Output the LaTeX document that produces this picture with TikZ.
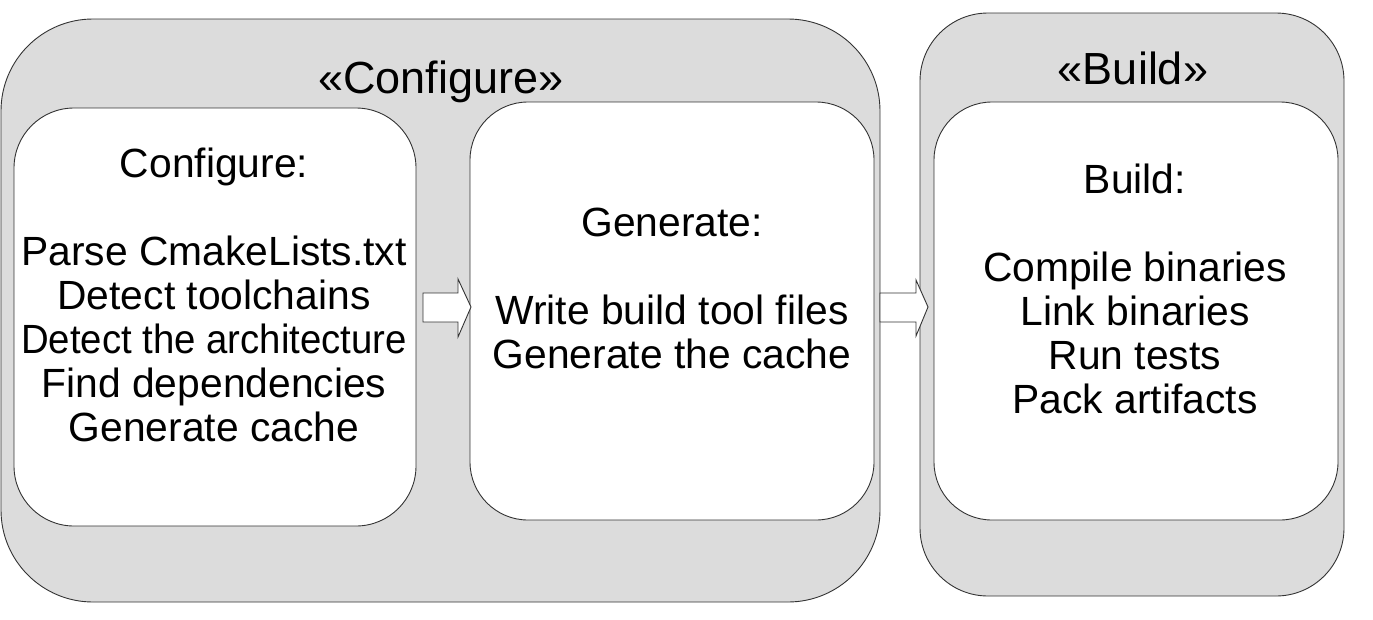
\documentclass[tikz,border=0pt]{standalone}
\usepackage{fontspec}
\setmainfont{Liberation Sans}
\usetikzlibrary{calc}
\definecolor{panelgray}{HTML}{DCDCDC}
\definecolor{edgegray}{HTML}{333333}
\tikzset{
  outerbox/.style={draw=edgegray, fill=panelgray, line width=0.9pt, inner sep=0pt, outer sep=0pt},
  innerbox/.style={draw=edgegray, fill=white, line width=0.9pt, inner sep=0pt, outer sep=0pt},
  bodytext/.style={align=center, font=\fontsize{40.8}{44}\selectfont, inner sep=0pt},
  titletext/.style={font=\fontsize{45}{54}\selectfont, inner sep=0pt},
  blockarrow/.style={draw=edgegray, fill=white, line width=0.9pt, line join=miter}
}
\begin{document}
\begin{tikzpicture}[x=1pt,y=-1pt]
\useasboundingbox (0,0) rectangle (1373,619);
% outer panels
\node[outerbox, rounded corners=92pt, minimum width=879pt, minimum height=583pt] (cfgpanel) at (440.5,310.5) {};
\node[outerbox, rounded corners=68pt, minimum width=424pt, minimum height=583pt] (bldpanel) at (1132,304.5) {};
% inner boxes
\node[innerbox, rounded corners=60pt, minimum width=402pt, minimum height=418pt] (cfgbox) at (215,317) {};
\node[innerbox, rounded corners=58pt, minimum width=404pt, minimum height=418pt] (genbox) at (672,311) {};
\node[innerbox, rounded corners=58pt, minimum width=404pt, minimum height=418pt] (bldbox) at (1136,311) {};
% titles
\node[titletext] (cfgtitle) at (441,82) {«Configure»};
\node[titletext] (bldtitle) at (1133,68) {«Build»};
% texts
\node[bodytext] (cfgtext) at (214,294.5) {Configure:\\[44pt]Parse CmakeLists.txt\\Detect toolchains\\\scalebox{0.94}[1]{Detect the architecture}\\Find dependencies\\Generate cache};
\node[bodytext] (gentext) at (672,288) {Generate:\\[44pt]Write build tool files\\Generate the cache};
\node[bodytext] (bldtext) at (1135,288.5) {Build:\\[44pt]Compile binaries\\Link binaries\\Run tests\\Pack artifacts};
% block arrows
\coordinate (a1s) at ($(cfgbox.east)+(7,-10)$);
\coordinate (a1t) at ($(genbox.west)+(1,-4)$);
\draw[blockarrow] (a1s |- 0,293) -- (458,293) -- (458,279) -- (a1t) -- (458,337) -- (458,322) -- (a1s |- 0,322) -- cycle;
\coordinate (a2s) at ($(cfgpanel.east)+(0,-3.5)$);
\coordinate (a2t) at ($(bldpanel.west)+(8,2.5)$);
\draw[blockarrow] (a2s |- 0,293) -- (916,293) -- (916,280) -- (a2t) -- (916,336) -- (916,322) -- (a2s |- 0,322) -- cycle;
\end{tikzpicture}
\end{document}
